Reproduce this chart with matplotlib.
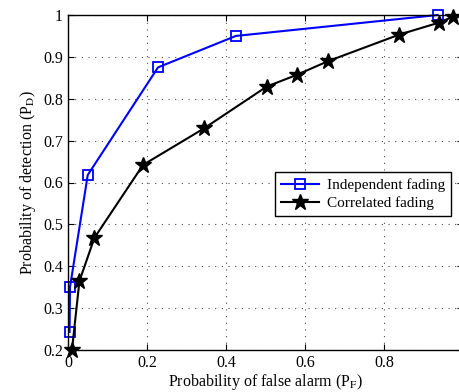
import numpy as np
import matplotlib
matplotlib.use("Agg")
import matplotlib.pyplot as plt

plt.rcParams['font.family'] = ['Liberation Serif', 'DejaVu Serif']
plt.rcParams['mathtext.fontset'] = 'stix'

# ROC data
pf_indep = [0.004, 0.005, 0.05, 0.228, 0.425, 0.936]
pd_indep = [0.243, 0.35, 0.618, 0.875, 0.95, 1.0]

pf_corr = [0.01, 0.029, 0.067, 0.19, 0.344, 0.503, 0.579, 0.659, 0.838, 0.94, 0.975]
pd_corr = [0.2, 0.365, 0.468, 0.642, 0.729, 0.829, 0.857, 0.89, 0.953, 0.982, 0.996]

xticks = [0, 0.2, 0.4, 0.6, 0.8]
yticks = [0.2, 0.3, 0.4, 0.5, 0.6, 0.7, 0.8, 0.9, 1.0]

fig = plt.figure(figsize=(4.6, 3.92), dpi=100)
ax = fig.add_axes([68/460, 42/392, 395/460, 335/392])

ax.plot(pf_indep, pd_indep, color="blue", lw=1.5, marker='s', ms=6.5,
        mfc='none', mec='blue', mew=1.3, label="Independent fading", clip_on=False)
ax.plot(pf_corr, pd_corr, color="black", lw=1.5, marker='*', ms=12,
        label="Correlated fading", clip_on=False, zorder=3)

ax.set_xlim(0, 1)
ax.set_ylim(0.2, 1)
ax.set_xticks(xticks)
ax.set_xticklabels(["0", "0.2", "0.4", "0.6", "0.8"])
ax.set_yticks(yticks)
ax.set_yticklabels(["0.2", "0.3", "0.4", "0.5", "0.6", "0.7", "0.8", "0.9", "1"])
ax.tick_params(direction='in', top=True, right=True, labelsize=11.5, length=4, width=0.8)
ax.grid(True, linestyle=(0, (1, 5)), color='black', lw=0.8, alpha=0.7)
for s in ax.spines.values():
    s.set_linewidth(1.0)

ax.set_xlabel(r"Probability of false alarm (P$_\mathrm{F}$)", fontsize=11.5, labelpad=1)
ax.set_ylabel(r"Probability of detection (P$_\mathrm{D}$)", fontsize=11.5, labelpad=4)

leg = ax.legend(loc='upper left', bbox_to_anchor=(0.524, 0.53), borderaxespad=0,
                fontsize=11, fancybox=False, edgecolor='black', framealpha=1,
                handlelength=2.5, handletextpad=0.5, borderpad=0.4, labelspacing=0.25)
leg.get_frame().set_linewidth(1.0)

fig.savefig("out.png", dpi=100)
